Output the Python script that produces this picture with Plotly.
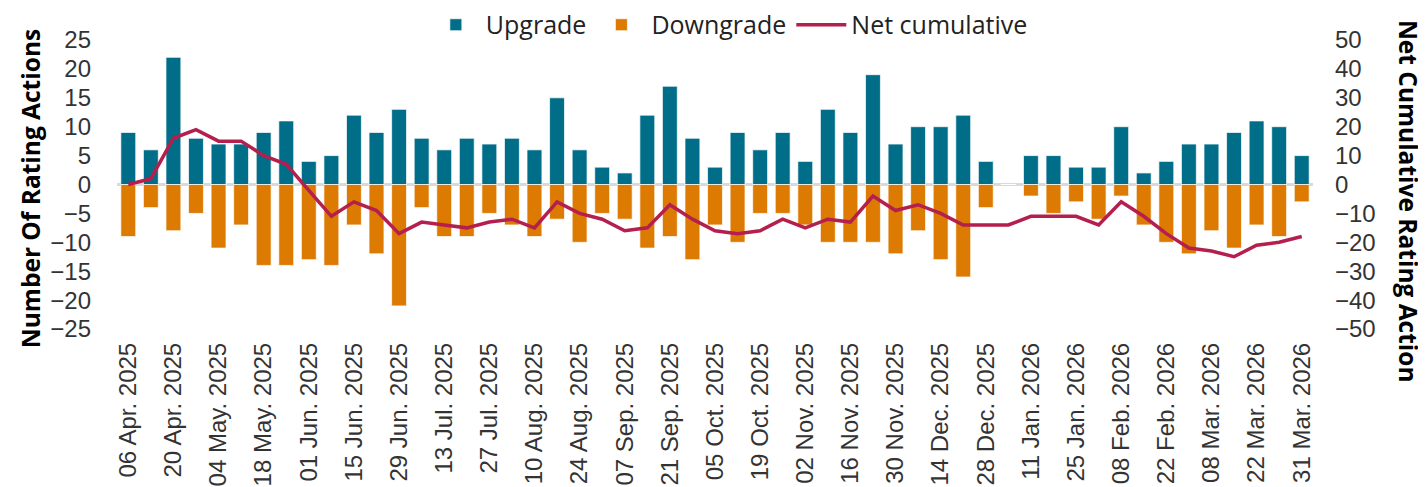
import plotly.graph_objects as go

categories = [
    "06 Apr. 2025", "13 Apr. 2025", "20 Apr. 2025", "27 Apr. 2025",
    "04 May. 2025", "11 May. 2025", "18 May. 2025", "25 May. 2025",
    "01 Jun. 2025", "08 Jun. 2025", "15 Jun. 2025", "22 Jun. 2025", "29 Jun. 2025",
    "06 Jul. 2025", "13 Jul. 2025", "20 Jul. 2025", "27 Jul. 2025",
    "03 Aug. 2025", "10 Aug. 2025", "17 Aug. 2025", "24 Aug. 2025", "31 Aug. 2025",
    "07 Sep. 2025", "14 Sep. 2025", "21 Sep. 2025", "28 Sep. 2025",
    "05 Oct. 2025", "12 Oct. 2025", "19 Oct. 2025", "26 Oct. 2025",
    "02 Nov. 2025", "09 Nov. 2025", "16 Nov. 2025", "23 Nov. 2025", "30 Nov. 2025",
    "07 Dec. 2025", "14 Dec. 2025", "21 Dec. 2025", "28 Dec. 2025",
    "04 Jan. 2026", "11 Jan. 2026", "18 Jan. 2026", "25 Jan. 2026",
    "01 Feb. 2026", "08 Feb. 2026", "15 Feb. 2026", "22 Feb. 2026",
    "01 Mar. 2026", "08 Mar. 2026", "15 Mar. 2026", "22 Mar. 2026", "29 Mar. 2026",
    "31 Mar. 2026",
]

upgrades = [
    9, 6, 22, 8, 7, 7, 9, 11, 4, 5, 12, 9, 13,
    8, 6, 8, 7, 8, 6, 15, 6, 3, 2, 12, 17, 8,
    3, 9, 6, 9, 4, 13, 9, 19, 7, 10, 10, 12, 4,
    0, 5, 5, 3, 3, 10, 2, 4, 7, 7, 9, 11, 10, 5,
]

downgrades = [
    -9, -4, -8, -5, -11, -7, -14, -14, -13, -14, -7, -12, -21,
    -4, -9, -9, -5, -7, -9, -6, -10, -5, -6, -11, -9, -13,
    -7, -10, -5, -5, -7, -10, -10, -10, -12, -8, -13, -16, -4,
    0, -2, -5, -3, -6, -2, -7, -10, -12, -8, -11, -7, -9, -3,
]

net_cumulative = [
    0, 2, 16, 19, 15, 15, 10, 7, -2, -11, -6, -9, -17,
    -13, -14, -15, -13, -12, -15, -6, -10, -12, -16, -15, -7, -12,
    -16, -17, -16, -12, -15, -12, -13, -4, -9, -7, -10, -14, -14,
    -14, -11, -11, -11, -14, -6, -11, -17, -22, -23, -25, -21, -20, -18,
]

tick_labels = categories[::2]

left_ticks = [25, 20, 15, 10, 5, 0, -5, -10, -15, -20, -25]
right_ticks = [50, 40, 30, 20, 10, 0, -10, -20, -30, -40, -50]

TEAL = "#006E89"
ORANGE = "#DD7A02"
CRIMSON = "#B41F4E"
TICK_FAMILY = "Liberation Sans"
LEGEND_FAMILY = "Open Sans"
TITLE_FAMILY = "Open Sans"
TICKFONT = dict(family=TICK_FAMILY, size=24, color="#333333")

fig = go.Figure()
fig.add_trace(go.Bar(
    x=categories, y=upgrades, name="Upgrade",
    marker=dict(color=TEAL, line=dict(color="rgba(255,255,255,0.7)", width=1)),
))
fig.add_trace(go.Bar(
    x=categories, y=downgrades, name="Downgrade",
    marker=dict(color=ORANGE, line=dict(color="rgba(255,255,255,0.7)", width=1)),
))
fig.add_trace(go.Scatter(
    x=categories, y=net_cumulative, name="Net cumulative", yaxis="y2",
    mode="lines", line=dict(color=CRIMSON, width=3.5),
))

fig.update_layout(
    width=1418, height=479,
    margin=dict(l=109, r=113, t=32, b=158, autoexpand=False),
    paper_bgcolor="white", plot_bgcolor="white",
    barmode="relative", bargap=0.34,
    font=dict(family=TICK_FAMILY, size=24, color="#333333"),
    showlegend=True,
    legend=dict(
        orientation="h", x=0.512, xanchor="center", y=1.052, yanchor="middle",
        font=dict(family=LEGEND_FAMILY, size=25, color="#222222"),
        bgcolor="rgba(0,0,0,0)", itemwidth=50, tracegroupgap=0,
    ),
    xaxis=dict(
        type="category", tickmode="array", tickvals=tick_labels, ticktext=tick_labels,
        tickangle=-90, showgrid=False, showline=False, ticks="",
        tickfont=TICKFONT,
        ticklabelstandoff=8, range=[-0.5, len(categories) - 0.5],
    ),
    yaxis=dict(
        range=[-25, 25], tickmode="array", tickvals=left_ticks,
        showgrid=False, showline=False, ticks="",
        zeroline=True, zerolinecolor="#D9D9D9", zerolinewidth=3,
        tickfont=TICKFONT,
        ticklabelstandoff=25,
    ),
    yaxis2=dict(
        range=[-50, 50], tickmode="array", tickvals=right_ticks,
        overlaying="y", side="right", showgrid=False, showline=False, ticks="",
        zeroline=False,
        tickfont=TICKFONT,
        ticklabelstandoff=21,
    ),
    annotations=[
        dict(text="<b>Number Of Rating Actions</b>", xref="paper", yref="paper",
             x=-0.0727, y=0.484, xanchor="center", yanchor="middle", textangle=-90,
             showarrow=False, font=dict(family=TITLE_FAMILY, size=24.5, color="#000000")),
        dict(text="<b>Net Cumulative Rating Action</b>", xref="paper", yref="paper",
             x=1.0794, y=0.44, xanchor="center", yanchor="middle", textangle=90,
             showarrow=False, font=dict(family=TITLE_FAMILY, size=24.5, color="#000000")),
    ],
)

fig.write_html("out.html")
